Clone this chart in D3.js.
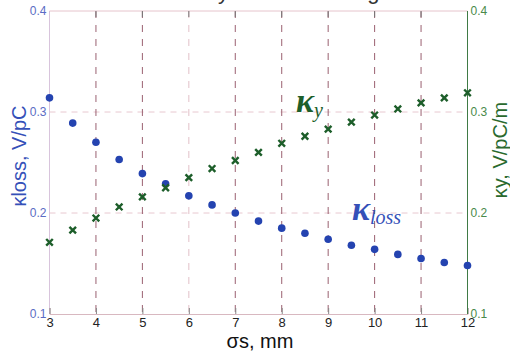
<!DOCTYPE html>
<html><head><meta charset="utf-8">
<script src="https://cdn.jsdelivr.net/npm/d3@7"></script>
<style>body{margin:0;background:#fff}svg{display:block}</style>
</head><body>
<svg id="c" width="510" height="352"></svg>
<script>
const sigma = [3,3.5,4,4.5,5,5.5,6,6.5,7,7.5,8,8.5,9,9.5,10,10.5,11,11.5,12];
const kLoss = [0.314,0.289,0.270,0.253,0.239,0.229,0.217,0.208,0.200,0.192,0.185,0.180,0.174,0.168,0.164,0.159,0.155,0.151,0.148];
const kY = [0.171,0.183,0.195,0.206,0.216,0.225,0.235,0.244,0.252,0.260,0.269,0.276,0.283,0.290,0.297,0.303,0.309,0.314,0.319];
const xTicks = [3,4,5,6,7,8,9,10,11,12];
const yTicks = [0.1,0.2,0.3,0.4];

const svg = d3.select("#c");
const x = d3.scaleLinear().domain([3,12]).range([49.5,467.5]);
const y = d3.scaleLinear().domain([0.1,0.4]).range([314,11]);

const blue = "#2443b0", green = "#1d5e2a";

// cut-off title (only descenders visible, as in the reference)
svg.append("text").attr("x",262).attr("y",-1).attr("text-anchor","middle")
  .attr("font-family","Liberation Sans, Arial").attr("font-size",22).attr("fill","#333")
  .text("Factors by the bunch length");

// horizontal grid
svg.append("g").selectAll("line").data([0.2,0.3]).join("line")
  .attr("x1",x(3)).attr("x2",x(12)).attr("y1",d=>y(d)).attr("y2",d=>y(d))
  .attr("stroke","#e8c8d0").attr("stroke-width",1).attr("stroke-dasharray","6,5");
// vertical grid
svg.append("g").selectAll("line").data(xTicks.slice(1,-1)).join("line")
  .attr("x1",d=>x(d)).attr("x2",d=>x(d)).attr("y1",y(0.4)).attr("y2",y(0.1))
  .attr("stroke",d=>d===6?"#e2c0c8":"#9a6070").attr("stroke-width",1).attr("stroke-dasharray","7,7");

// frame
svg.append("line").attr("x1",x(3)).attr("x2",x(12)).attr("y1",y(0.4)).attr("y2",y(0.4)).attr("stroke","#e6c4cc");
svg.append("line").attr("x1",x(3)).attr("x2",x(3)).attr("y1",y(0.4)).attr("y2",y(0.1)).attr("stroke","#d8c4dc");

// bottom axis
const xAxis = d3.axisBottom(x).tickValues(xTicks).tickSize(-6).tickPadding(3).tickFormat(d3.format("d"));
const gx = svg.append("g").attr("transform",`translate(0,${y(0.1)})`).call(xAxis);
gx.select(".domain").attr("stroke","#d8b8c0");
gx.selectAll(".tick line").attr("stroke","#888");
gx.selectAll("text").attr("font-family","Liberation Sans, Arial").attr("font-size",13).attr("fill","#222").attr("dy","0.75em");
// top ticks
svg.append("g").selectAll("line").data(xTicks.slice(1,-1)).join("line")
  .attr("x1",d=>x(d)).attr("x2",d=>x(d)).attr("y1",y(0.4)).attr("y2",y(0.4)+6).attr("stroke","#777");

// left axis labels
svg.append("g").selectAll("text").data(yTicks).join("text")
  .attr("x",x(3)-3).attr("y",d=>y(d)).attr("dy","0.35em").attr("text-anchor","end")
  .attr("font-family","Liberation Sans, Arial").attr("font-size",12).attr("fill","#5a6cc4")
  .text(d=>d.toFixed(1));
// right axis
svg.append("line").attr("x1",x(12)).attr("x2",x(12)).attr("y1",y(0.4)).attr("y2",y(0.1)).attr("stroke","#3f7a45");
svg.append("g").selectAll("text").data(yTicks).join("text")
  .attr("x",x(12)+3).attr("y",d=>y(d)).attr("dy","0.35em").attr("text-anchor","start")
  .attr("font-family","Liberation Sans, Arial").attr("font-size",12).attr("fill","#4a8a4a")
  .text(d=>d.toFixed(1));

// axis titles
svg.append("text").attr("transform","translate(26,156) rotate(-90)").attr("text-anchor","middle")
  .attr("font-family","Liberation Sans, Arial").attr("font-size",20).attr("fill","#3550b8")
  .text("κloss, V/pC");
svg.append("text").attr("transform","translate(507,150) rotate(-90)").attr("text-anchor","middle")
  .attr("font-family","Liberation Sans, Arial").attr("font-size",20).attr("fill","#2a6a2e")
  .text("κy, V/pC/m");
svg.append("text").attr("x",260).attr("y",348).attr("text-anchor","middle")
  .attr("font-family","Liberation Sans, Arial").attr("font-size",20).attr("fill","#111")
  .text("σs, mm");

// series
svg.append("g").selectAll("circle").data(sigma).join("circle")
  .attr("cx",d=>x(d)).attr("cy",(d,i)=>y(kLoss[i])).attr("r",3.8).attr("fill",blue);
const cs = 3.3;
const gy = svg.append("g").attr("stroke",green).attr("stroke-width",2.4);
sigma.forEach((s,i)=>{
  const cx=x(s), cy=y(kY[i]);
  gy.append("path").attr("d",`M${cx-cs},${cy-cs}L${cx+cs},${cy+cs}M${cx-cs},${cy+cs}L${cx+cs},${cy-cs}`);
});

// in-plot labels
const ky = svg.append("text").attr("x",296).attr("y",112)
  .attr("font-family","Liberation Serif, Times New Roman").attr("font-style","italic").attr("font-weight","bold").attr("fill",green);
ky.append("tspan").attr("font-size",34).text("κ");
ky.append("tspan").attr("font-size",20).attr("dy",5).attr("font-weight","normal").text("y");
const kl = svg.append("text").attr("x",352).attr("y",220)
  .attr("font-family","Liberation Serif, Times New Roman").attr("font-style","italic").attr("font-weight","bold").attr("fill","#3550b8");
kl.append("tspan").attr("font-size",34).text("κ");
kl.append("tspan").attr("font-size",20).attr("dy",4).attr("font-weight","normal").text("loss");
</script>
</body></html>
